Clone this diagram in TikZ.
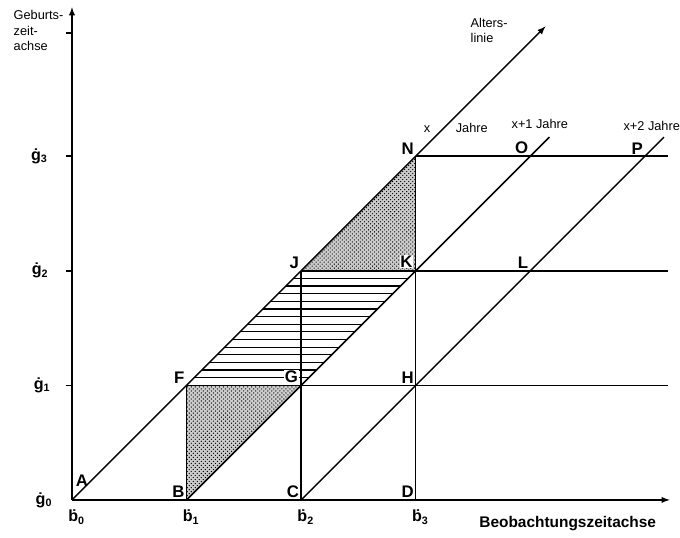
\documentclass[tikz,border=0pt]{standalone}
\usepackage{fontspec}
\setmainfont{Liberation Sans}
\usepackage{tikz}
\usetikzlibrary{
  patterns,%
  positioning,
  calc
}
\tikzset{>=latex}
\tikzset{every path/.style={line width=1.1pt}}
\tikzset{ptlabel/.style={above left, inner sep=1pt, font=\bfseries\fontsize{12.5}{14}\selectfont}}
\tikzset{ptlabelw/.style={ptlabel, fill=white, inner sep=0.6pt, xshift=-1.2pt, yshift=1.2pt}}
\tikzset{axlabel/.style={inner sep=0pt, font=\bfseries\fontsize{12}{14}\selectfont}}
\tikzset{smalltext/.style={inner sep=0pt, font=\fontsize{9.5}{11.5}\selectfont}}
\tikzset{stipple/.style={fill=gray!40, postaction={pattern=crosshatch dots}}}

\begin{document}
\begin{tikzpicture}
        \useasboundingbox (-1.885,-0.995) rectangle (15.92,13.09);
        % grid points
        \coordinate (A) at (0,0);
        \coordinate (B) at (3,0);
        \coordinate (C) at (6,0);
        \coordinate (D) at (9,0);
        \coordinate (F) at (3,3);
        \coordinate (G) at (6,3);
        \coordinate (H) at (9,3);
        \coordinate (J) at (6,6);
        \coordinate (K) at (9,6);
        \coordinate (L) at (12,6);
        \coordinate (N) at (9,9);
        \coordinate (O) at (12,9);
        \coordinate (P) at (15,9);
        % shaded triangles
        \fill[stipple] (B) -- (F) -- (G) -- cycle;
        \fill[stipple] (J) -- (K) -- (N) -- cycle;
        % hatched parallelogram
        \foreach \i in {1,...,14} {
          \pgfmathsetmacro{\y}{3+0.2*\i}
          \draw[line width=0.9pt] (\y,\y) -- (\y+3,\y);
        }
        % axes
        \draw[->] (A) -- (0,12.9);
        \draw[->] (A) -- (15.65,0);
        \draw (-0.15,12.23) -- (0,12.23);
        \foreach \g in {3,6,9} \draw (-0.15,\g) -- (0,\g);
        % verticals
        \draw (B) -- (F);
        \draw (C) -- (J);
        \draw (D) -- (N);
        % horizontals
        \draw (F) -- (15.6,3);
        \draw (J) -- (15.6,6);
        \draw (N) -- (15.6,9);
        % age lines
        \draw[->] (A) -- (12.4,12.4);
        \draw (B) -- (12.5,9.5);
        \draw (C) -- (15.5,9.5);
        % point labels
        \node[ptlabel, above right] (lblA) at (0.05,0.3) {A};
        \foreach \p in {B,C,D,F,H,J,L,N,O,P}
          \node[ptlabel] (lbl\p) at (\p) {\p};
        \node[ptlabelw] (lblG) at (G) {G};
        \node[ptlabelw] (lblK) at (K) {K};
        % axis labels
        \node[axlabel, anchor=east] (g0) at (-0.5,0) {ġ\textsubscript{0}};
        \node[axlabel, anchor=east] (g1) at (-0.55,3) {ġ\textsubscript{1}};
        \node[axlabel, anchor=east] (g2) at (-0.6,6) {ġ\textsubscript{2}};
        \node[axlabel, anchor=east] (g3) at (-0.62,9) {ġ\textsubscript{3}};
        \foreach \b/\x in {0/0,1/3,2/6,3/9}
          \node[axlabel, anchor=north] (b\b) at (\x+0.12,-0.25) {ḃ\textsubscript{\b}};
        \node[axlabel, font=\bfseries\fontsize{11.5}{13}\selectfont] (beob) at (12.98,-0.63) {Beobachtungszeitachse};
        \node[smalltext, align=left, anchor=north west] (geb) at (-1.545,12.83) {Geburts-\\zeit-\\achse};
        \node[smalltext, align=left, anchor=north west] (alt) at (10.42,12.64) {Alters-\\linie};
        \node[smalltext] (xj) at (10.05,9.75) {x\hspace{2em}Jahre};
        \node[smalltext] (x1j) at (12.25,9.84) {x+1 Jahre};
        \node[smalltext] (x2j) at (15.18,9.79) {x+2 Jahre};
\end{tikzpicture}
\end{document}
